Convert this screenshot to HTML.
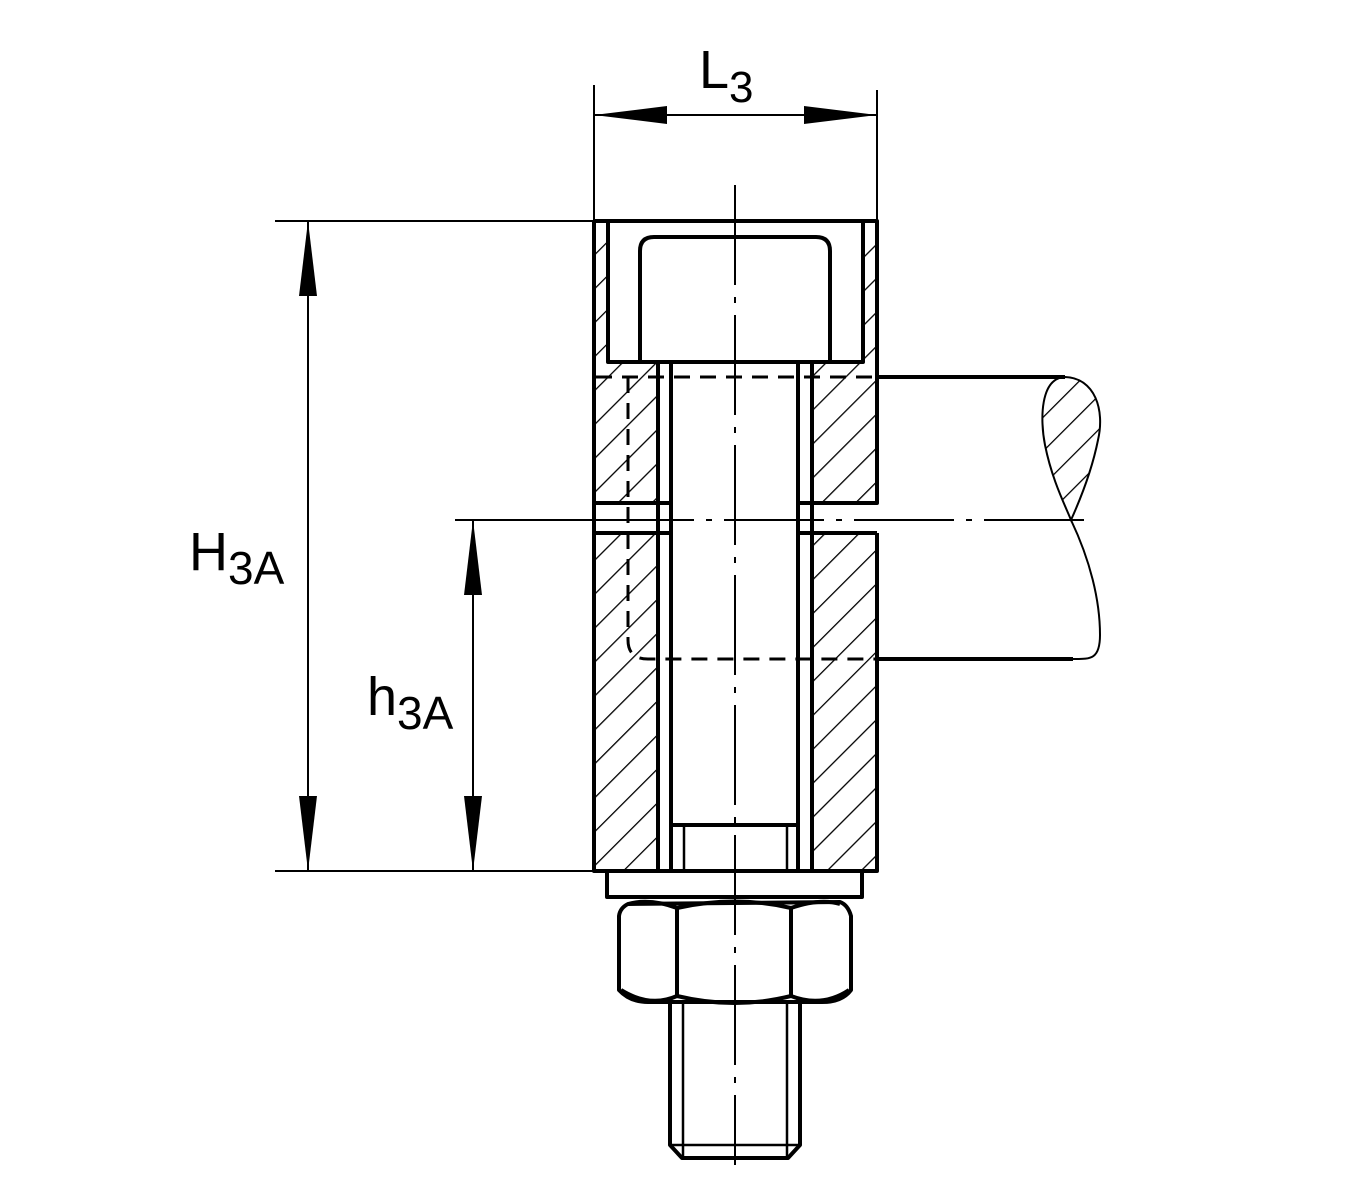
<!DOCTYPE html>
<html><head><style>html,body{margin:0;padding:0;background:#fff}</style></head><body>
<svg width="1350" height="1200" viewBox="0 0 1350 1200" xmlns="http://www.w3.org/2000/svg" style="display:block">
<defs>
<pattern id="h" patternUnits="userSpaceOnUse" width="24" height="24" patternTransform="rotate(45)">
<line x1="0" y1="0" x2="0" y2="24" stroke="#000" stroke-width="2.6"/>
</pattern>
<clipPath id="brk"><path d="M1065,377 C1040,378 1040,420 1045,445 C1052,480 1065,505 1071,520 C1080,500 1092,470 1098,440 C1105,410 1095,378 1065,377Z"/></clipPath>
</defs>
<g fill="url(#h)" stroke="none">
<rect x="594" y="221" width="14" height="141"/>
<rect x="863" y="221" width="14" height="141"/>
<rect x="594" y="362" width="64" height="141"/>
<rect x="812" y="362" width="65" height="141"/>
<rect x="594" y="533" width="64" height="338"/>
<rect x="812" y="533" width="65" height="338"/>
<rect x="1030" y="370" width="80" height="155" clip-path="url(#brk)"/>
</g>
<g fill="none" stroke="#000" stroke-width="4" stroke-linejoin="round">
<path d="M594,221 H877 V503 H812 M877,533 V871 H594 V221"/>
<path d="M608,221 V362 H863 V221"/>
<path d="M640,362 V251 Q640,237 654,237 H816 Q830,237 830,251 V362"/>
<path d="M594,503 H671 M594,533 H671 M798,503 H812 M798,533 H877"/>
<line x1="658" y1="362" x2="658" y2="871"/>
<line x1="671" y1="362" x2="671" y2="871"/>
<line x1="798" y1="362" x2="798" y2="871"/>
<line x1="812" y1="362" x2="812" y2="871"/>
<line x1="671" y1="825" x2="798" y2="825"/>
<line x1="684" y1="825" x2="684" y2="871" stroke-width="2.5"/>
<line x1="787" y1="825" x2="787" y2="871" stroke-width="2.5"/>
<rect x="607" y="871" width="255" height="26"/>
<path d="M628,904 Q620,908 619,916 V990 Q630,1002 648,1002 H822 Q842,1002 851,990 V916 Q848,905 840,902 Z"/>
<path d="M677,908 V996 M791,908 V996"/>
<path d="M628,904 Q650,898 677,908 Q735,895 791,908 Q820,898 840,904"/>
<path d="M621,990 Q650,1008 677,996 Q735,1010 791,996 Q822,1008 849,990"/>
<path d="M670,1002 V1145 L682,1158 H788 L800,1145 V1002"/>
<path d="M683,1002 V1158 M787,1002 V1158" stroke-width="2.5"/>
<line x1="670" y1="1145" x2="800" y2="1145" stroke-width="2.5"/>
<path d="M877,377 H1065 M877,659 H1073"/>
</g>
<g fill="none" stroke="#000" stroke-width="2">
<path d="M1065,377 C1040,378 1040,420 1045,445 C1052,480 1065,505 1071,520 C1080,500 1092,470 1098,440 C1105,410 1095,378 1065,377Z"/>
<path d="M1071,520 C1090,560 1100,600 1100,635 C1100,660 1090,659 1073,659"/>
<path d="M594,85 V221 M877,90 V221 M594,115 H877"/>
<path d="M275,221 H594 M275,871 H594 M308,221 V871 M455,520 H594 M473,520 V871"/>
<path d="M735,185 V1165" stroke-dasharray="100,12,6,12"/>
<path d="M594,520 H1090" stroke-dasharray="100,12,6,12"/>
</g>
<g fill="none" stroke="#000" stroke-width="3" stroke-dasharray="16,10">
<path d="M596,377 H877"/>
<path d="M628,377 V640 Q628,659 648,659 H877"/>
</g>
<g fill="#000">
<polygon points="594,115 667,106 667,124"/>
<polygon points="877,115 804,106 804,124"/>
<polygon points="308,221 299,296 317,296"/>
<polygon points="308,871 299,796 317,796"/>
<polygon points="473,520 464,595 482,595"/>
<polygon points="473,871 464,796 482,796"/>
</g>
<g font-family="Liberation Sans, sans-serif" fill="#000">
<text x="699" y="88" font-size="54">L<tspan font-size="44" dy="14">3</tspan></text>
<text x="189" y="570" font-size="54">H<tspan font-size="46" dy="14">3A</tspan></text>
<text x="367" y="715" font-size="54">h<tspan font-size="46" dy="14">3A</tspan></text>
</g>
</svg>
</body></html>
